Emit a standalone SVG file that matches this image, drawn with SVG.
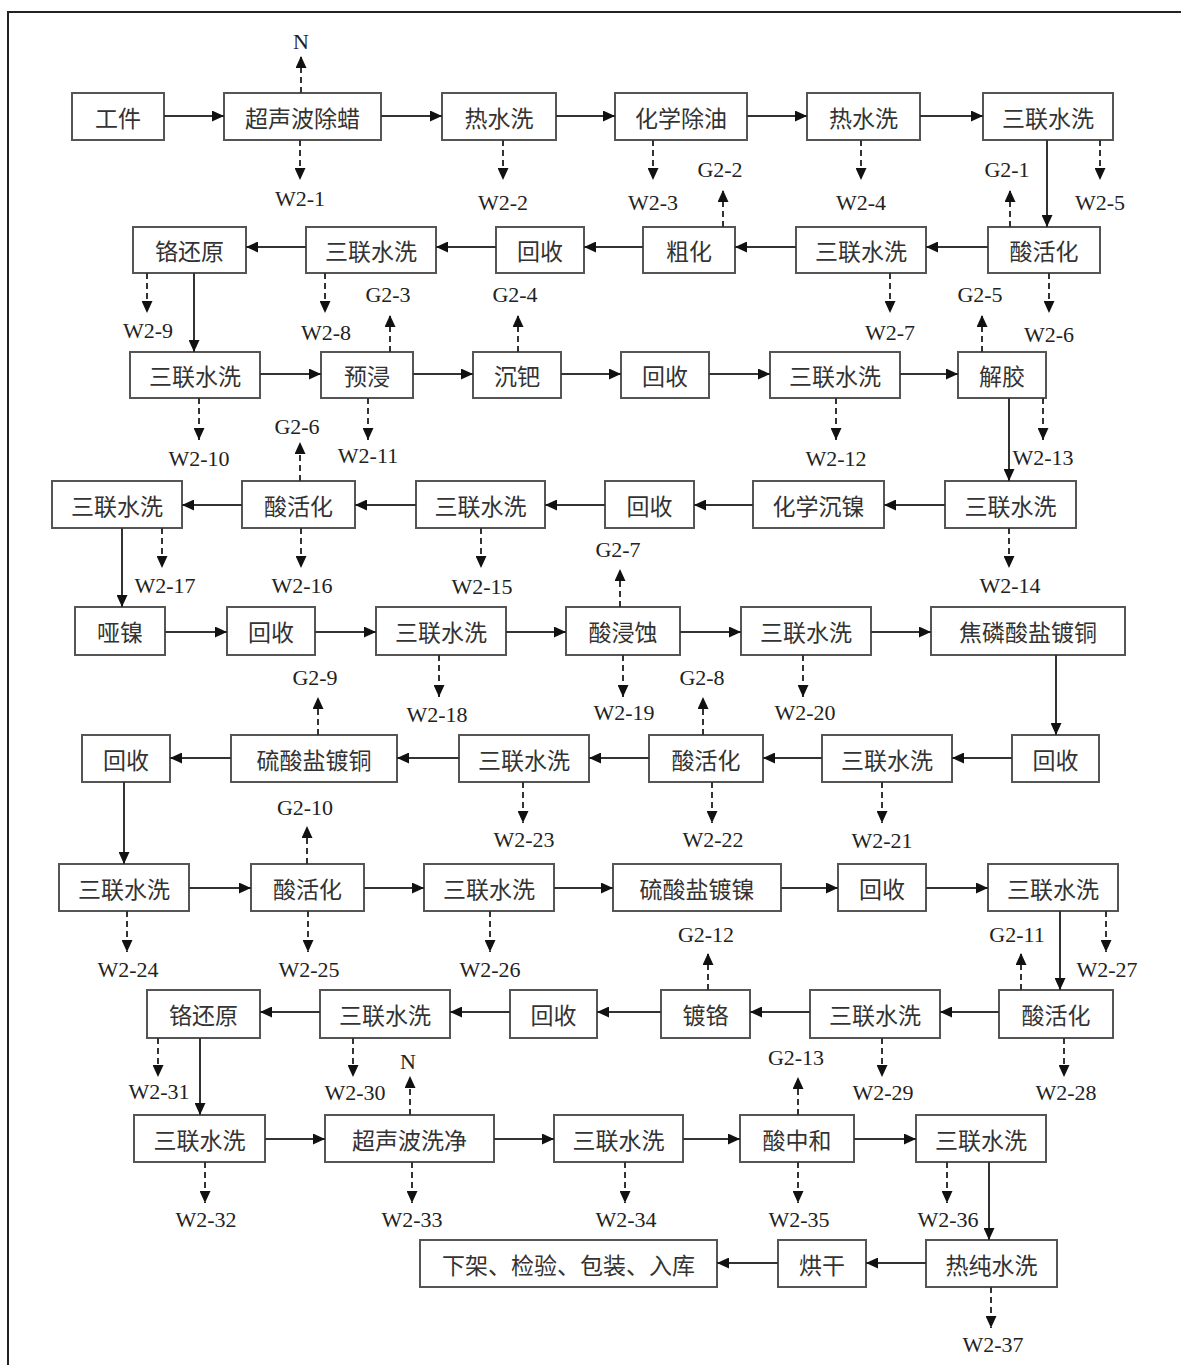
<svg xmlns="http://www.w3.org/2000/svg" width="1181" height="1365" viewBox="0 0 1181 1365">
<defs>
<marker id="ah" markerUnits="userSpaceOnUse" markerWidth="12" markerHeight="11" refX="12" refY="5.5" orient="auto">
<path d="M0,0 L12,5.5 L0,11 z" fill="#111"/>
</marker>
<style>
.box{fill:#fff;stroke:#555;stroke-width:2}
.t{font-family:"Noto Sans CJK SC","Noto Sans",sans-serif;font-size:23px;fill:#333;text-anchor:middle;dominant-baseline:central}
.s{fill:none;stroke:#333;stroke-width:2;marker-end:url(#ah)}
.d{fill:none;stroke:#333;stroke-width:2;stroke-dasharray:6 4;marker-end:url(#ah)}
.l{font-family:"Liberation Serif","Times New Roman",serif;font-size:22px;fill:#222;text-anchor:middle}
</style>
</defs>
<rect width="1181" height="1365" fill="#fff"/>
<rect x="8" y="12" width="1200" height="1400" fill="none" stroke="#222" stroke-width="2"/>

<g id="nodes">
<g id="n1"><rect class="box" x="72" y="93" width="92" height="47"/><text class="t" x="118" y="116.5">工件</text></g>
<g id="n2"><rect class="box" x="224" y="93" width="157" height="47"/><text class="t" x="302.5" y="116.5">超声波除蜡</text></g>
<g id="n3"><rect class="box" x="442" y="93" width="114" height="47"/><text class="t" x="499" y="116.5">热水洗</text></g>
<g id="n4"><rect class="box" x="615" y="93" width="132" height="47"/><text class="t" x="681" y="116.5">化学除油</text></g>
<g id="n5"><rect class="box" x="807" y="93" width="113" height="47"/><text class="t" x="863.5" y="116.5">热水洗</text></g>
<g id="n6"><rect class="box" x="983" y="93" width="130" height="47"/><text class="t" x="1048" y="116.5">三联水洗</text></g>

<g id="n7"><rect class="box" x="988" y="227" width="112" height="46"/><text class="t" x="1044" y="250">酸活化</text></g>
<g id="n8"><rect class="box" x="796" y="227" width="130" height="46"/><text class="t" x="861" y="250">三联水洗</text></g>
<g id="n9"><rect class="box" x="643" y="227" width="92" height="46"/><text class="t" x="689" y="250">粗化</text></g>
<g id="n10"><rect class="box" x="496" y="227" width="88" height="46"/><text class="t" x="540" y="250">回收</text></g>
<g id="n11"><rect class="box" x="306" y="227" width="130" height="46"/><text class="t" x="371" y="250">三联水洗</text></g>
<g id="n12"><rect class="box" x="133" y="227" width="113" height="46"/><text class="t" x="189.5" y="250">铬还原</text></g>

<g id="n13"><rect class="box" x="130" y="352" width="130" height="46"/><text class="t" x="195" y="375">三联水洗</text></g>
<g id="n14"><rect class="box" x="321" y="352" width="92" height="46"/><text class="t" x="367" y="375">预浸</text></g>
<g id="n15"><rect class="box" x="473" y="352" width="88" height="46"/><text class="t" x="517" y="375">沉钯</text></g>
<g id="n16"><rect class="box" x="621" y="352" width="88" height="46"/><text class="t" x="665" y="375">回收</text></g>
<g id="n17"><rect class="box" x="770" y="352" width="130" height="46"/><text class="t" x="835" y="375">三联水洗</text></g>
<g id="n18"><rect class="box" x="958" y="352" width="88" height="46"/><text class="t" x="1002" y="375">解胶</text></g>

<g id="n19"><rect class="box" x="945" y="481" width="131" height="47"/><text class="t" x="1010.5" y="504.5">三联水洗</text></g>
<g id="n20"><rect class="box" x="753" y="481" width="131" height="47"/><text class="t" x="818.5" y="504.5">化学沉镍</text></g>
<g id="n21"><rect class="box" x="605" y="481" width="89" height="47"/><text class="t" x="649.5" y="504.5">回收</text></g>
<g id="n22"><rect class="box" x="416" y="481" width="129" height="47"/><text class="t" x="480.5" y="504.5">三联水洗</text></g>
<g id="n23"><rect class="box" x="242" y="481" width="113" height="47"/><text class="t" x="298.5" y="504.5">酸活化</text></g>
<g id="n24"><rect class="box" x="52" y="481" width="130" height="47"/><text class="t" x="117" y="504.5">三联水洗</text></g>

<g id="n25"><rect class="box" x="75" y="607" width="90" height="48"/><text class="t" x="120" y="631">哑镍</text></g>
<g id="n26"><rect class="box" x="227" y="607" width="88" height="48"/><text class="t" x="271" y="631">回收</text></g>
<g id="n27"><rect class="box" x="376" y="607" width="130" height="48"/><text class="t" x="441" y="631">三联水洗</text></g>
<g id="n28"><rect class="box" x="566" y="607" width="114" height="48"/><text class="t" x="623" y="631">酸浸蚀</text></g>
<g id="n29"><rect class="box" x="741" y="607" width="130" height="48"/><text class="t" x="806" y="631">三联水洗</text></g>
<g id="n30"><rect class="box" x="931" y="607" width="194" height="48"/><text class="t" x="1028" y="631">焦磷酸盐镀铜</text></g>

<g id="n31"><rect class="box" x="1012" y="735" width="87" height="47"/><text class="t" x="1055.5" y="758.5">回收</text></g>
<g id="n32"><rect class="box" x="822" y="735" width="130" height="47"/><text class="t" x="887" y="758.5">三联水洗</text></g>
<g id="n33"><rect class="box" x="649" y="735" width="114" height="47"/><text class="t" x="706" y="758.5">酸活化</text></g>
<g id="n34"><rect class="box" x="459" y="735" width="130" height="47"/><text class="t" x="524" y="758.5">三联水洗</text></g>
<g id="n35"><rect class="box" x="231" y="735" width="166" height="47"/><text class="t" x="314" y="758.5">硫酸盐镀铜</text></g>
<g id="n36"><rect class="box" x="82" y="735" width="88" height="47"/><text class="t" x="126" y="758.5">回收</text></g>

<g id="n37"><rect class="box" x="59" y="864" width="130" height="47"/><text class="t" x="124" y="887.5">三联水洗</text></g>
<g id="n38"><rect class="box" x="251" y="864" width="113" height="47"/><text class="t" x="307.5" y="887.5">酸活化</text></g>
<g id="n39"><rect class="box" x="424" y="864" width="130" height="47"/><text class="t" x="489" y="887.5">三联水洗</text></g>
<g id="n40"><rect class="box" x="613" y="864" width="168" height="47"/><text class="t" x="697" y="887.5">硫酸盐镀镍</text></g>
<g id="n41"><rect class="box" x="838" y="864" width="88" height="47"/><text class="t" x="882" y="887.5">回收</text></g>
<g id="n42"><rect class="box" x="988" y="864" width="130" height="47"/><text class="t" x="1053" y="887.5">三联水洗</text></g>

<g id="n43"><rect class="box" x="999" y="990" width="114" height="48"/><text class="t" x="1056" y="1014">酸活化</text></g>
<g id="n44"><rect class="box" x="810" y="990" width="130" height="48"/><text class="t" x="875" y="1014">三联水洗</text></g>
<g id="n45"><rect class="box" x="661" y="990" width="89" height="48"/><text class="t" x="705.5" y="1014">镀铬</text></g>
<g id="n46"><rect class="box" x="510" y="990" width="87" height="48"/><text class="t" x="553.5" y="1014">回收</text></g>
<g id="n47"><rect class="box" x="320" y="990" width="130" height="48"/><text class="t" x="385" y="1014">三联水洗</text></g>
<g id="n48"><rect class="box" x="147" y="990" width="113" height="48"/><text class="t" x="203.5" y="1014">铬还原</text></g>

<g id="n49"><rect class="box" x="134" y="1115" width="131" height="47"/><text class="t" x="199.5" y="1138.5">三联水洗</text></g>
<g id="n50"><rect class="box" x="325" y="1115" width="169" height="47"/><text class="t" x="409.5" y="1138.5">超声波洗净</text></g>
<g id="n51"><rect class="box" x="554" y="1115" width="129" height="47"/><text class="t" x="618.5" y="1138.5">三联水洗</text></g>
<g id="n52"><rect class="box" x="740" y="1115" width="114" height="47"/><text class="t" x="797" y="1138.5">酸中和</text></g>
<g id="n53"><rect class="box" x="916" y="1115" width="130" height="47"/><text class="t" x="981" y="1138.5">三联水洗</text></g>

<g id="n54"><rect class="box" x="926" y="1240" width="131" height="47"/><text class="t" x="991.5" y="1263.5">热纯水洗</text></g>
<g id="n55"><rect class="box" x="778" y="1240" width="88" height="47"/><text class="t" x="822" y="1263.5">烘干</text></g>
<g id="n56"><rect class="box" x="420" y="1240" width="297" height="47"/><text class="t" x="568.5" y="1263.5">下架、检验、包装、入库</text></g>
</g>

<g id="connectors">
<path class="s" d="M164,116 H224"/><path class="s" d="M381,116 H442"/><path class="s" d="M556,116 H615"/><path class="s" d="M747,116 H807"/><path class="s" d="M920,116 H983"/>
<path class="s" d="M1047,140 V227"/>
<path class="s" d="M988,247 H926"/><path class="s" d="M796,247 H735"/><path class="s" d="M643,247 H584"/><path class="s" d="M496,247 H436"/><path class="s" d="M306,247 H246"/>
<path class="s" d="M194,273 V352"/>
<path class="s" d="M260,374 H321"/><path class="s" d="M413,374 H473"/><path class="s" d="M561,374 H621"/><path class="s" d="M709,374 H770"/><path class="s" d="M900,374 H958"/>
<path class="s" d="M1009,398 V481"/>
<path class="s" d="M945,505 H884"/><path class="s" d="M753,505 H694"/><path class="s" d="M605,505 H545"/><path class="s" d="M416,505 H355"/><path class="s" d="M242,505 H182"/>
<path class="s" d="M122,528 V607"/>
<path class="s" d="M165,632 H227"/><path class="s" d="M315,632 H376"/><path class="s" d="M506,632 H566"/><path class="s" d="M680,632 H741"/><path class="s" d="M871,632 H931"/>
<path class="s" d="M1056,655 V735"/>
<path class="s" d="M1012,758 H952"/><path class="s" d="M822,758 H763"/><path class="s" d="M649,758 H589"/><path class="s" d="M459,758 H397"/><path class="s" d="M231,758 H170"/>
<path class="s" d="M124,782 V864"/>
<path class="s" d="M189,888 H251"/><path class="s" d="M364,888 H424"/><path class="s" d="M554,888 H613"/><path class="s" d="M781,888 H838"/><path class="s" d="M926,888 H988"/>
<path class="s" d="M1060,911 V990"/>
<path class="s" d="M999,1012 H940"/><path class="s" d="M810,1012 H750"/><path class="s" d="M661,1012 H597"/><path class="s" d="M510,1012 H450"/><path class="s" d="M320,1012 H260"/>
<path class="s" d="M200,1038 V1115"/>
<path class="s" d="M265,1139 H325"/><path class="s" d="M494,1139 H554"/><path class="s" d="M683,1139 H740"/><path class="s" d="M854,1139 H916"/>
<path class="s" d="M989,1162 V1240"/>
<path class="s" d="M926,1263 H866"/><path class="s" d="M778,1263 H717"/>
<path class="d" d="M300,140 V180"/><path class="d" d="M503,140 V180"/><path class="d" d="M653,140 V180"/><path class="d" d="M861,140 V180"/><path class="d" d="M1100,140 V180"/>
<path class="d" d="M1049,273 V313"/><path class="d" d="M890,273 V313"/><path class="d" d="M325,273 V313"/><path class="d" d="M147,273 V313"/>
<path class="d" d="M199,398 V440"/><path class="d" d="M368,398 V440"/><path class="d" d="M836,398 V440"/><path class="d" d="M1043,398 V440"/>
<path class="d" d="M1009,528 V568"/><path class="d" d="M481,528 V568"/><path class="d" d="M301,528 V568"/><path class="d" d="M162,528 V568"/>
<path class="d" d="M439,655 V697"/><path class="d" d="M623,655 V697"/><path class="d" d="M803,655 V697"/>
<path class="d" d="M882,782 V823"/><path class="d" d="M712,782 V823"/><path class="d" d="M523,782 V823"/>
<path class="d" d="M127,911 V952"/><path class="d" d="M308,911 V952"/><path class="d" d="M490,911 V952"/><path class="d" d="M1106,911 V952"/>
<path class="d" d="M1064,1038 V1077"/><path class="d" d="M882,1038 V1077"/><path class="d" d="M353,1038 V1077"/><path class="d" d="M158,1038 V1077"/>
<path class="d" d="M205,1162 V1203"/><path class="d" d="M412,1162 V1203"/><path class="d" d="M625,1162 V1203"/><path class="d" d="M798,1162 V1203"/><path class="d" d="M947,1162 V1203"/>
<path class="d" d="M991,1287 V1328"/>
<path class="d" d="M301,93 V56"/>
<path class="d" d="M1010,227 V190"/><path class="d" d="M723,227 V190"/>
<path class="d" d="M390,352 V315"/><path class="d" d="M518,352 V315"/><path class="d" d="M982,352 V315"/>
<path class="d" d="M300,481 V442"/>
<path class="d" d="M620,607 V569"/>
<path class="d" d="M703,735 V697"/><path class="d" d="M318,735 V697"/>
<path class="d" d="M307,864 V826"/>
<path class="d" d="M1021,990 V953"/><path class="d" d="M708,990 V953"/>
<path class="d" d="M798,1115 V1077"/><path class="d" d="M410,1115 V1076"/>
</g>

<g id="labels">
<text class="l" x="301" y="49">N</text>
<text class="l" x="300" y="206">W2-1</text><text class="l" x="503" y="210">W2-2</text><text class="l" x="653" y="210">W2-3</text><text class="l" x="861" y="210">W2-4</text><text class="l" x="1100" y="210">W2-5</text>
<text class="l" x="1007" y="177">G2-1</text><text class="l" x="720" y="177">G2-2</text>
<text class="l" x="1049" y="342">W2-6</text><text class="l" x="890" y="340">W2-7</text><text class="l" x="326" y="340">W2-8</text><text class="l" x="148" y="338">W2-9</text>
<text class="l" x="388" y="302">G2-3</text><text class="l" x="515" y="302">G2-4</text><text class="l" x="980" y="302">G2-5</text>
<text class="l" x="199" y="466">W2-10</text><text class="l" x="368" y="463">W2-11</text><text class="l" x="836" y="466">W2-12</text><text class="l" x="1043" y="465">W2-13</text>
<text class="l" x="297" y="434">G2-6</text>
<text class="l" x="1010" y="593">W2-14</text><text class="l" x="482" y="594">W2-15</text><text class="l" x="302" y="593">W2-16</text><text class="l" x="165" y="593">W2-17</text>
<text class="l" x="618" y="557">G2-7</text>
<text class="l" x="437" y="722">W2-18</text><text class="l" x="624" y="720">W2-19</text><text class="l" x="805" y="720">W2-20</text>
<text class="l" x="702" y="685">G2-8</text><text class="l" x="315" y="685">G2-9</text>
<text class="l" x="882" y="848">W2-21</text><text class="l" x="713" y="847">W2-22</text><text class="l" x="524" y="847">W2-23</text>
<text class="l" x="305" y="815">G2-10</text>
<text class="l" x="128" y="977">W2-24</text><text class="l" x="309" y="977">W2-25</text><text class="l" x="490" y="977">W2-26</text><text class="l" x="1107" y="977">W2-27</text>
<text class="l" x="1017" y="942">G2-11</text><text class="l" x="706" y="942">G2-12</text>
<text class="l" x="1066" y="1100">W2-28</text><text class="l" x="883" y="1100">W2-29</text><text class="l" x="355" y="1100">W2-30</text><text class="l" x="159" y="1099">W2-31</text>
<text class="l" x="796" y="1065">G2-13</text><text class="l" x="408" y="1069">N</text>
<text class="l" x="206" y="1227">W2-32</text><text class="l" x="412" y="1227">W2-33</text><text class="l" x="626" y="1227">W2-34</text><text class="l" x="799" y="1227">W2-35</text><text class="l" x="948" y="1227">W2-36</text>
<text class="l" x="993" y="1352">W2-37</text>
</g>
</svg>
